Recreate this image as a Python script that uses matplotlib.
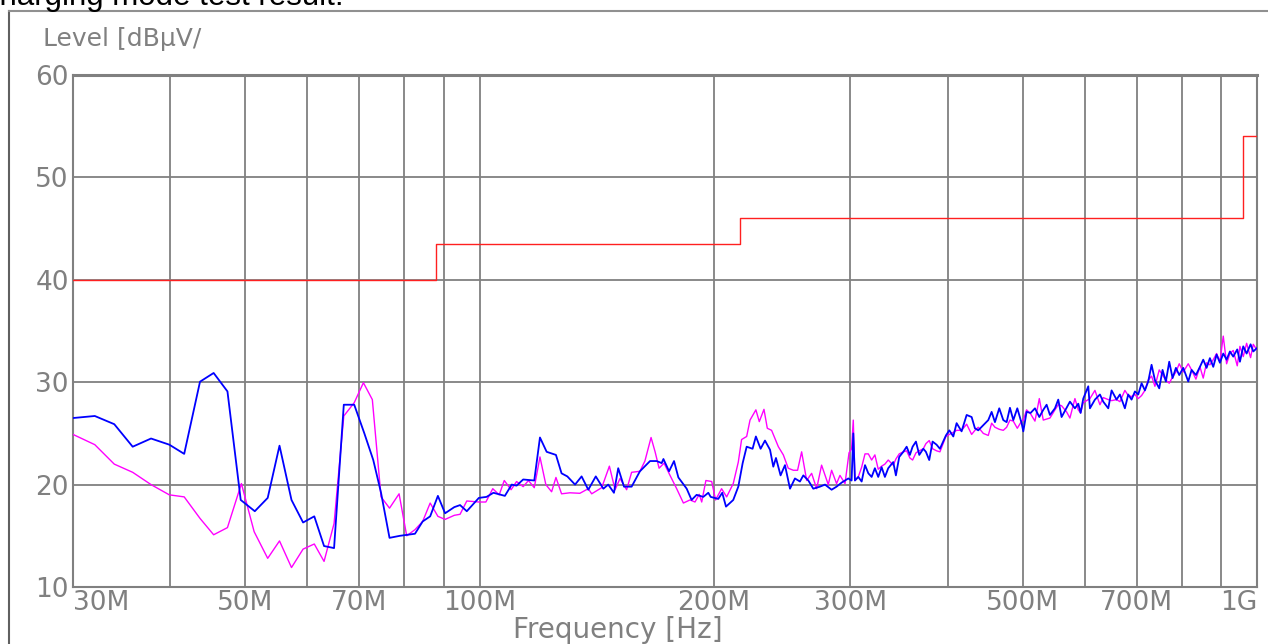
import matplotlib
matplotlib.use('Agg')
import matplotlib.pyplot as plt
from matplotlib.lines import Line2D

# limit line (dBuV/m), step after each frequency
limit_freq = [30, 88, 216, 960, 1000]
limit_level = [40, 43.5, 46, 54, 54]

# blue trace, frequency in MHz
blue_freq = [
    30.0, 32.0, 33.9, 35.8, 37.8, 39.9, 41.7, 43.7, 45.5, 47.4,
    49.3, 51.4, 53.4, 55.3, 57.3, 59.3, 61.3, 63.1, 65.0, 66.9,
    69.0, 71.1, 73.0, 74.7, 76.6, 79.0, 82.6, 84.5, 86.4, 88.4,
    90.3, 92.8, 94.4, 96.3, 99.8,
    102.1, 104.2, 107.8, 110.0, 111.6, 113.8, 117.6, 119.6, 122.0, 125.4,
    127.5, 129.7, 132.7, 135.3, 138.0, 141.1, 144.3, 146.4, 148.9, 150.8,
    153.4, 156.9, 160.8, 165.7, 169.0, 171.5, 172.4, 175.3, 177.9, 180.2,
    184.7, 187.4, 190.2, 194.0, 196.9, 198.3, 202.8, 205.2, 207.5, 212.0,
    215.2, 218.0, 220.6, 224.5, 226.7, 229.9, 232.9, 236.4, 238.7, 240.6,
    243.9, 247.1, 250.8, 254.5, 258.3, 260.9, 264.8, 268.7, 274.1, 278.2,
    283.7, 287.9, 292.3, 298.1,
    301.0, 302.5, 304.0, 307.0, 310.1, 313.2, 316.3, 319.4, 322.5, 325.7,
    329.0, 332.2, 335.5, 340.5, 343.2, 346.6, 350.8, 354.3, 357.7, 360.6,
    364.2, 367.8, 372.2, 375.1, 378.8, 382.6, 387.1, 391.0, 398.0, 402.0,
    406.8, 410.8, 416.9, 423.2, 429.5, 433.7, 438.0, 444.6, 451.2, 455.7,
    460.2, 466.1, 471.7, 476.4, 481.1, 485.9, 491.7, 498.0, 500.5, 505.4,
    511.5, 518.1, 524.8, 531.0, 536.3, 541.6, 549.7, 555.1, 560.6, 569.0,
    574.6, 583.2, 589.0, 593.1, 597.8, 606.7, 609.7, 618.8, 628.0, 634.2,
    643.7, 650.1, 659.7, 666.3, 676.2, 682.9, 689.7, 696.6, 703.5, 710.5,
    717.5, 724.6, 731.8, 739.1, 748.6, 756.0, 763.5, 771.1, 778.8, 786.5,
    794.3, 803.8, 815.8, 823.9, 834.5, 844.5, 852.8, 861.3, 869.8, 878.5,
    887.2, 896.0, 904.9, 913.9, 922.9, 932.1, 943.2, 950.7, 960.1, 969.7,
    981.2, 989.0, 998.8]
blue_level = [
    26.5, 26.7, 25.9, 23.7, 24.5, 23.9, 23.0, 30.05, 30.9, 29.1,
    18.5, 17.4, 18.7, 23.8, 18.5, 16.3, 16.9, 14.0, 13.8, 27.8,
    27.8, 25.0, 22.4, 19.2, 14.8, 15.0, 15.2, 16.4, 16.9, 18.9,
    17.2, 17.8, 18.0, 17.4, 18.7,
    18.8, 19.2, 18.9, 20.0, 19.9, 20.5, 20.4, 24.6, 23.2, 22.9,
    21.1, 20.8, 20.0, 20.8, 19.5, 20.8, 19.6, 20.0, 19.2, 21.6,
    19.8, 19.8, 21.3, 22.3, 22.3, 22.1, 22.5, 21.3, 22.3, 20.7,
    19.6, 18.5, 19.0, 18.8, 19.2, 18.8, 18.6, 19.2, 17.85, 18.5,
    19.8, 22.1, 23.7, 23.5, 24.7, 23.5, 24.3, 23.4, 21.75, 22.6,
    20.9, 21.9, 19.6, 20.6, 20.3, 20.9, 20.4, 19.6, 19.8, 20.0,
    19.5, 19.8, 20.2, 20.6,
    20.4, 25.0, 20.4, 20.75, 20.3, 21.9, 21.1, 20.75, 21.6, 20.75,
    21.7, 20.75, 21.6, 22.2, 20.9, 22.7, 23.2, 23.7, 22.9, 23.7,
    24.2, 22.9, 23.5, 23.2, 22.4, 24.2, 23.9, 23.5, 24.8, 25.3,
    24.7, 26.0, 25.2, 26.8, 26.6, 25.5, 25.3, 25.8, 26.3, 27.1,
    26.1, 27.45, 26.3, 26.1, 27.5, 26.3, 27.45, 26.0, 25.2, 27.1,
    27.0, 27.45, 26.6, 27.3, 27.8, 26.8, 27.45, 28.3, 26.6, 27.5,
    28.1, 27.45, 27.9, 27.0, 28.4, 29.6, 27.45, 28.3, 28.8, 28.1,
    27.45, 29.2, 28.3, 28.8, 27.45, 28.8, 28.3, 29.1, 28.8, 29.9,
    29.2, 30.07, 31.7, 30.2, 29.4, 31.2, 30.07, 32.0, 30.4, 31.4,
    30.7, 31.4, 30.07, 31.2, 30.7, 31.5, 32.2, 31.4, 32.35, 31.5,
    32.7, 31.9, 32.8, 32.2, 33.0, 32.5, 33.2, 32.0, 33.5, 32.8,
    33.7, 33.0, 33.3]

# magenta trace, frequency in MHz
mag_freq = [
    30.0, 32.0, 33.9, 35.8, 37.8, 39.9, 41.7, 43.7, 45.5, 47.4,
    49.4, 51.3, 53.4, 55.3, 57.3, 59.3, 61.3, 63.1, 65.0, 66.9,
    69.0, 70.9, 72.8, 74.7, 76.6, 78.8, 80.6, 82.6, 84.5, 86.4,
    88.4, 90.3, 92.8, 94.4, 96.3, 99.8,
    101.9, 104.0, 106.0, 107.6, 109.8, 111.6, 113.8, 115.6, 117.6, 119.6,
    121.7, 123.8, 125.4, 127.5, 130.7, 134.6, 138.0, 139.4, 143.6, 146.9,
    149.4, 151.6, 154.6, 156.9, 160.8, 163.2, 166.2, 168.2, 170.2, 172.7,
    175.8, 179.3, 182.9, 186.5, 189.3, 191.7, 193.1, 195.5, 198.9, 201.2,
    204.8, 207.9, 212.0, 215.2, 217.3, 220.6, 222.8, 226.7, 229.0, 232.2,
    234.5, 237.5, 242.3, 245.9, 249.5, 253.3, 256.5, 259.6, 263.5, 267.4,
    271.4, 275.4, 280.9, 283.7, 287.9, 290.8, 295.2, 298.7,
    301.0, 302.5, 304.0, 307.0, 310.1, 313.2, 316.3, 319.4, 322.5, 325.7,
    329.0, 332.2, 335.5, 340.5, 343.2, 346.6, 350.8, 354.3, 357.7, 360.6,
    364.2, 367.8, 372.2, 375.1, 378.8, 382.6, 387.1, 391.0, 398.0, 402.0,
    406.8, 410.8, 416.9, 423.2, 429.5, 433.7, 438.0, 444.6, 451.2, 455.7,
    460.2, 466.1, 471.7, 476.4, 481.1, 485.9, 491.7, 498.0, 500.5, 505.4,
    511.5, 518.1, 524.8, 531.0, 536.3, 541.6, 549.7, 555.1, 560.6, 569.0,
    574.6, 583.2, 589.0, 593.1, 597.8, 606.7, 609.7, 618.8, 628.0, 634.2,
    643.7, 650.1, 659.7, 666.3, 676.2, 682.9, 689.7, 696.6, 703.5, 710.5,
    717.5, 724.6, 731.8, 739.1, 748.6, 756.0, 763.5, 771.1, 778.8, 786.5,
    794.3, 803.8, 815.8, 823.9, 834.5, 844.5, 852.8, 861.3, 869.8, 878.5,
    887.2, 896.0, 904.9, 913.9, 922.9, 932.1, 943.2, 950.7, 960.1, 969.7,
    981.2, 989.0, 998.8]
mag_level = [
    24.9, 23.9, 22.0, 21.2, 20.0, 19.0, 18.8, 16.7, 15.1, 15.8,
    20.1, 15.4, 12.8, 14.5, 11.9, 13.7, 14.2, 12.5, 16.2, 26.7,
    28.0, 29.95, 28.3, 18.8, 17.7, 19.1, 15.0, 15.6, 16.4, 18.2,
    16.9, 16.6, 17.0, 17.1, 18.4, 18.3,
    18.3, 19.6, 19.0, 20.4, 19.5, 20.3, 19.8, 20.4, 19.7, 22.7,
    20.0, 19.3, 20.7, 19.1, 19.2, 19.15, 19.6, 19.1, 19.7, 21.8,
    19.5, 20.6, 19.5, 21.2, 21.3, 22.3, 24.6, 23.2, 21.6, 22.1,
    20.9, 19.6, 18.2, 18.5, 18.3, 19.05, 18.3, 20.4, 20.3, 18.5,
    19.6, 18.8, 20.1, 22.2, 24.4, 24.7, 26.3, 27.3, 26.15, 27.35,
    25.5, 25.3, 23.7, 22.9, 21.6, 21.4, 21.4, 23.2, 20.4, 21.1,
    19.6, 21.9, 20.0, 21.4, 20.1, 20.9, 20.1, 23.1,
    23.5, 26.3, 20.4, 20.75, 21.7, 23.0, 23.0, 22.4, 22.9, 21.5,
    21.8, 22.0, 22.4, 21.9, 22.5, 23.0, 23.2, 23.3, 22.6, 22.4,
    23.1, 23.3, 23.5, 24.0, 24.3, 23.5, 23.3, 23.2, 24.7, 24.9,
    25.1, 25.3, 25.3, 25.9, 24.9, 25.3, 25.6, 25.0, 24.8, 26.0,
    25.6, 25.4, 25.3, 25.6, 26.3, 26.2, 25.5, 26.2, 26.3, 27.3,
    26.9, 26.2, 28.4, 26.3, 26.4, 26.5, 27.3, 27.8, 27.7, 27.1,
    26.5, 28.4, 27.3, 27.0, 28.0, 28.3, 28.4, 29.2, 27.8, 28.5,
    28.3, 28.2, 28.3, 28.1, 29.2, 28.7, 28.6, 28.8, 28.4, 28.7,
    29.2, 30.2, 30.6, 29.6, 31.2, 30.7, 30.2, 29.9, 30.5, 31.0,
    31.8, 31.0, 31.8, 31.2, 30.3, 31.5, 30.4, 31.9, 31.7, 32.2,
    32.8, 32.0, 34.5, 31.8, 32.8, 33.1, 31.6, 33.5, 32.5, 33.8,
    32.4, 33.7, 33.2]

grid_freq = [30, 40, 50, 60, 70, 80, 90, 100, 200, 300, 400, 500,
             600, 700, 800, 900, 1000]
grid_labels = ['30M', '', '50M', '', '70M', '', '', '100M', '200M', '300M',
               '', '500M', '', '700M', '', '', '1G']
y_ticks = [10, 20, 30, 40, 50, 60]

gray = '#808080'
plt.rcParams['font.family'] = ['DejaVu Sans']

fig = plt.figure(figsize=(12.68, 6.44), dpi=100)
ax = fig.add_axes([73 / 1268, 1 - 587 / 644, 1184 / 1268, 512 / 644])

ax.plot(limit_freq, limit_level, color='#ff2020', lw=1.0,
        drawstyle='steps-post', zorder=3)
ax.plot(mag_freq, mag_level, color='#ff00ff', lw=1.0, zorder=4)
ax.plot(blue_freq, blue_level, color='#0000ff', lw=1.3, zorder=5)

ax.set_xscale('log')
ax.set_xlim(30, 1000)
ax.set_ylim(10, 60)
ax.minorticks_off()
ax.set_xticks(grid_freq)
ax.set_xticklabels(grid_labels)
ax.set_yticks(y_ticks)
ax.grid(True, color=gray, lw=1.3)
ax.set_axisbelow(True)
ax.tick_params(length=0, labelsize=19, labelcolor=gray)
ax.tick_params(axis='x', pad=2)
ax.tick_params(axis='y', pad=3)
for s in ax.spines.values():
    s.set_color(gray)
    s.set_linewidth(1.5)
ax.spines['top'].set_linewidth(2.2)

xlabels = ax.get_xticklabels()
xlabels[0].set_ha('left')
xlabels[-1].set_ha('right')

fig.text(618 / 1268, 1 - 630 / 644, 'Frequency [Hz]', color=gray,
         fontsize=20, ha='center', va='center')
fig.text(43 / 1268, 1 - 39 / 644, 'Level [dBµV/', color=gray,
         fontsize=18, ha='left', va='center')

# cut-off title above the frame, as in the source screenshot
fig.text(-23 / 1268, 1 - 5 / 644, 'Charging mode test result.',
         family='Liberation Sans', fontsize=22.5, color='black',
         ha='left', va='baseline')

# outer frame
fig.add_artist(Line2D([9 / 1268, 9 / 1268], [0, 1 - 10.5 / 644],
                      color='#606060', lw=1.5))
fig.add_artist(Line2D([9 / 1268, 1], [1 - 10.5 / 644, 1 - 10.5 / 644],
                      color='#909090', lw=1.5))

fig.savefig('out.png', dpi=100)
